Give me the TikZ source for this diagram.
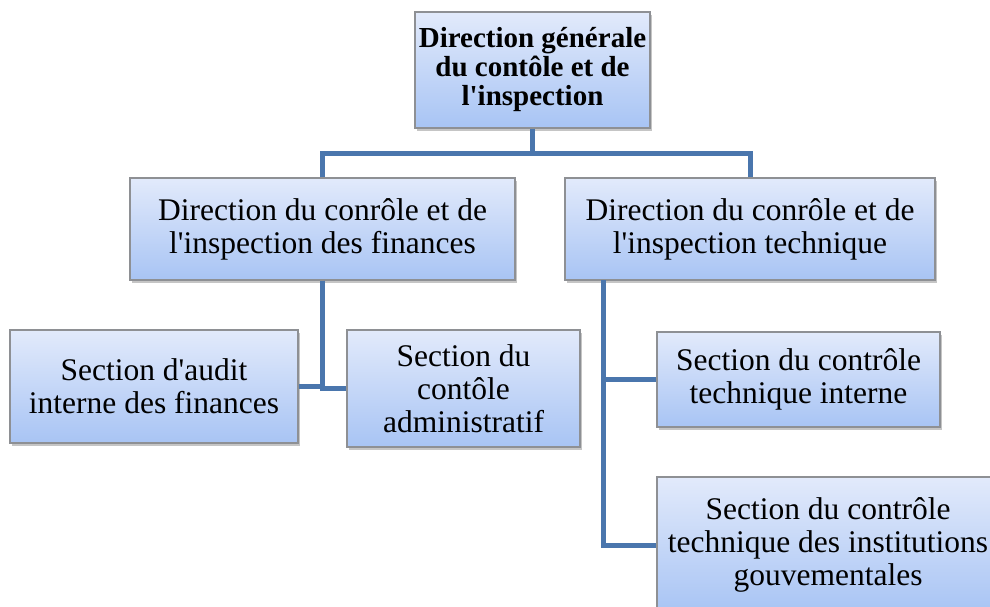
\documentclass[tikz,border=0pt]{standalone}
\usepackage{fontspec}
\setmainfont{Liberation Serif}
\newfontfamily\orgfont{Liberation Serif}
\usetikzlibrary{shadows}
\definecolor{boxtop}{HTML}{E2EAFB}
\definecolor{boxbot}{HTML}{A8C4F4}
\definecolor{boxline}{HTML}{8E9094}
\definecolor{conncol}{HTML}{4A76AD}
\tikzset{
  orgbox/.style={draw=boxline, line width=1.2pt, top color=boxtop, bottom color=boxbot,
    align=center, inner sep=0pt, text=black,
    drop shadow={shadow xshift=2pt, shadow yshift=-3pt, fill=black!45, opacity=0.5}},
  bigtxt/.style={font=\orgfont\fontsize{31.5}{33}\selectfont},
  toptxt/.style={font=\orgfont\bfseries\fontsize{29}{29}\selectfont},
  conn/.style={draw=conncol, line width=5pt}
}
\begin{document}
\begin{tikzpicture}[x=1pt,y=-1pt]
\useasboundingbox (0,0) rectangle (990,606);
\clip (0,0) rectangle (990,606);
\coordinate (hy) at (532.5,153);
\coordinate (rt) at (603,280);
\node[orgbox, toptxt, minimum width=235pt, minimum height=116pt] (top) at (532.5,70) {Direction générale\\du contôle et de\\l'inspection};
\node[orgbox, bigtxt, minimum width=385pt, minimum height=102pt] (fin) at (322.5,229) {Direction du conrôle et de\\l'inspection des finances};
\node[orgbox, bigtxt, minimum width=370pt, minimum height=102pt] (tech) at (750,229) {Direction du conrôle et de\\l'inspection technique};
\node[orgbox, bigtxt, minimum width=288pt, minimum height=113pt] (audit) at (154,386.5) {Section d'audit\\interne des finances};
\node[orgbox, bigtxt, minimum width=233pt, minimum height=117pt] (admin) at (463.5,388.5) {Section du\\contôle\\administratif};
\node[orgbox, bigtxt, minimum width=283pt, minimum height=95pt] (interne) at (798.5,379.5) {Section du contrôle\\technique interne};
\node[orgbox, bigtxt, minimum width=342pt, minimum height=136pt] (gouv) at (828,545) {Section du contrôle\\technique des institutions\\gouvementales};
\draw[conn] (top.south) -- (hy);
\draw[conn] (fin.north) |- (hy) -| (tech.north);
\draw[conn] (fin.south) |- (audit.east);
\draw[conn] (fin.south) |- (admin.west);
\draw[conn] (rt) |- (interne.west);
\draw[conn] (rt) |- (gouv.west);
\end{tikzpicture}
\end{document}
